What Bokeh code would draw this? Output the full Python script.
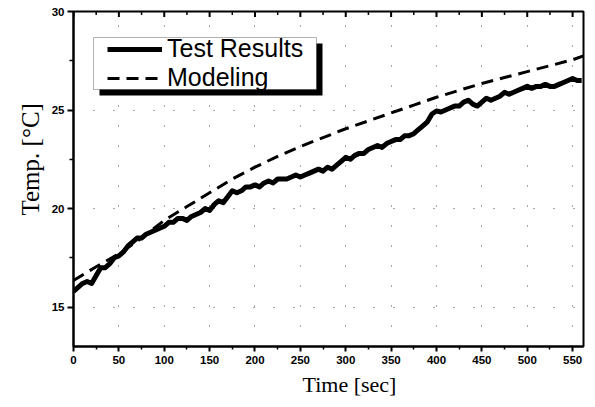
from bokeh.plotting import figure
from bokeh.models import (Range1d, FixedTicker, Legend, LegendItem,
                          BoxAnnotation, Title)
from bokeh.embed import file_html
from bokeh.resources import INLINE
import math

# ---------------- data ----------------
test_time = list(range(0, 561, 5))
test_temp = [15.8, 16.0, 16.2, 16.3, 16.2, 16.6, 17.0, 17.0, 17.2, 17.5,
             17.6, 17.8, 18.1, 18.3, 18.5, 18.5, 18.7, 18.8, 18.9, 19.0,
             19.1, 19.3, 19.3, 19.5, 19.5, 19.4, 19.6, 19.7, 19.8, 20.0,
             19.9, 20.2, 20.4, 20.3, 20.6, 20.9, 20.8, 20.9, 21.1, 21.1,
             21.2, 21.1, 21.3, 21.4, 21.3, 21.5, 21.5, 21.5, 21.6, 21.7,
             21.6, 21.7, 21.8, 21.9, 22.0, 21.9, 22.1, 22.0, 22.2, 22.4,
             22.6, 22.5, 22.7, 22.8, 22.8, 23.0, 23.1, 23.2, 23.1, 23.3,
             23.4, 23.5, 23.5, 23.7, 23.7, 23.8, 24.0, 24.2, 24.4, 24.8,
             24.95, 24.9, 25.0, 25.1, 25.2, 25.2, 25.4, 25.5, 25.3, 25.2,
             25.4, 25.6, 25.5, 25.6, 25.7, 25.9, 25.8, 25.9, 26.0, 26.1,
             26.2, 26.1, 26.2, 26.2, 26.3, 26.2, 26.2, 26.3, 26.4, 26.5,
             26.6, 26.5, 26.5]

model_time = [0, 25, 50, 75, 100, 125, 150, 175, 200, 225, 250, 275, 300,
              325, 350, 375, 400, 425, 450, 475, 500, 525, 550, 562]
model_temp = [16.35, 17.05, 17.7, 18.5, 19.4, 20.1, 20.8, 21.5, 22.1, 22.65,
              23.15, 23.6, 24.05, 24.45, 24.85, 25.25, 25.65, 26.0, 26.35,
              26.65, 26.95, 27.25, 27.55, 27.75]

x_major = list(range(0, 551, 50))
x_minor = list(range(25, 561, 50))
y_major = [15, 20, 25, 30]
y_minor = [17.5, 22.5, 27.5]
x_min, x_max = 0, 562
y_min, y_max = 13, 30

series_names = ["Test Results", "Modeling"]
x_label = "Time [sec]"
y_label = "Temp. [°C]"

# ---------------- figure ----------------
p = figure(width=595, height=407, output_backend="svg", toolbar_location=None,
           x_range=Range1d(x_min, x_max), y_range=Range1d(y_min, y_max),
           min_border_left=73, min_border_right=12, min_border_top=11,
           min_border_bottom=61)
p.background_fill_color = "white"
p.border_fill_color = "white"
p.outline_line_color = "black"
p.outline_line_width = 2

tick_font = "Liberation Sans"
for ax in (p.xaxis[0], p.yaxis[0]):
    ax.axis_line_width = 2
    ax.axis_line_color = "black"
    ax.major_tick_line_width = 2
    ax.minor_tick_line_width = 1.5
    ax.major_tick_in = 0
    ax.minor_tick_in = 0
    ax.major_label_text_font = tick_font
    ax.major_label_text_font_style = "bold"
    ax.major_label_text_font_size = "11.5px"
    ax.major_label_text_color = "black"

p.xaxis[0].ticker = FixedTicker(ticks=x_major, minor_ticks=x_minor)
p.xaxis[0].major_tick_out = 5
p.xaxis[0].minor_tick_out = 3
p.xaxis[0].major_label_standoff = 4
p.yaxis[0].ticker = FixedTicker(ticks=y_major, minor_ticks=y_minor)
p.yaxis[0].major_tick_out = 6
p.yaxis[0].minor_tick_out = 4
p.yaxis[0].major_label_standoff = 3

# inward ticks along the top edge (half of each dash is clipped by the frame)
p.scatter(x_major, [y_max] * len(x_major), marker="dash", size=11,
          angle=math.pi / 2, line_color="black", line_width=2)
p.scatter(x_minor, [y_max] * len(x_minor), marker="dash", size=7,
          angle=math.pi / 2, line_color="black", line_width=1.5)

p.xgrid.ticker = FixedTicker(ticks=x_major)
p.ygrid.ticker = FixedTicker(ticks=y_major)
for g in (p.xgrid[0], p.ygrid[0]):
    g.grid_line_color = "#555555"
    g.grid_line_width = 1
    g.grid_line_dash = "1 19"

# axis titles
p.add_layout(Title(text=x_label, align="left", offset=229, standoff=6,
                   text_font="Liberation Serif", text_font_size="22px",
                   text_font_style="normal", text_color="black"), "below")
p.add_layout(Title(text=y_label, align="left", offset=131, standoff=10,
                   text_font="Liberation Serif", text_font_size="25px",
                   text_font_style="normal", text_color="black"), "left")

# lines
r_test = p.line(test_time, test_temp, line_color="black", line_width=5,
                line_join="round")
r_model = p.line(model_time, model_temp, line_color="black", line_width=3,
                 line_dash="12 7")

# legend box with shadow
p.add_layout(BoxAnnotation(left=26, right=249, top=303, bottom=251,
                           left_units="screen", right_units="screen",
                           top_units="screen", bottom_units="screen",
                           fill_color="black", fill_alpha=1, line_alpha=0))
p.add_layout(BoxAnnotation(left=20, right=243, top=309, bottom=257,
                           left_units="screen", right_units="screen",
                           top_units="screen", bottom_units="screen",
                           fill_color="white", fill_alpha=1,
                           line_color="black", line_width=1))

legend = Legend(items=[LegendItem(label=series_names[0], renderers=[r_test]),
                       LegendItem(label=series_names[1], renderers=[r_model])],
                location=(34, 254), padding=0, margin=0, spacing=0,
                glyph_width=55, glyph_height=20, label_standoff=5,
                label_text_font="Liberation Sans", label_text_font_size="25px",
                label_text_color="black", background_fill_alpha=0,
                border_line_alpha=0)
p.add_layout(legend, "center")

open("out.html", "w").write(file_html(p, INLINE))
